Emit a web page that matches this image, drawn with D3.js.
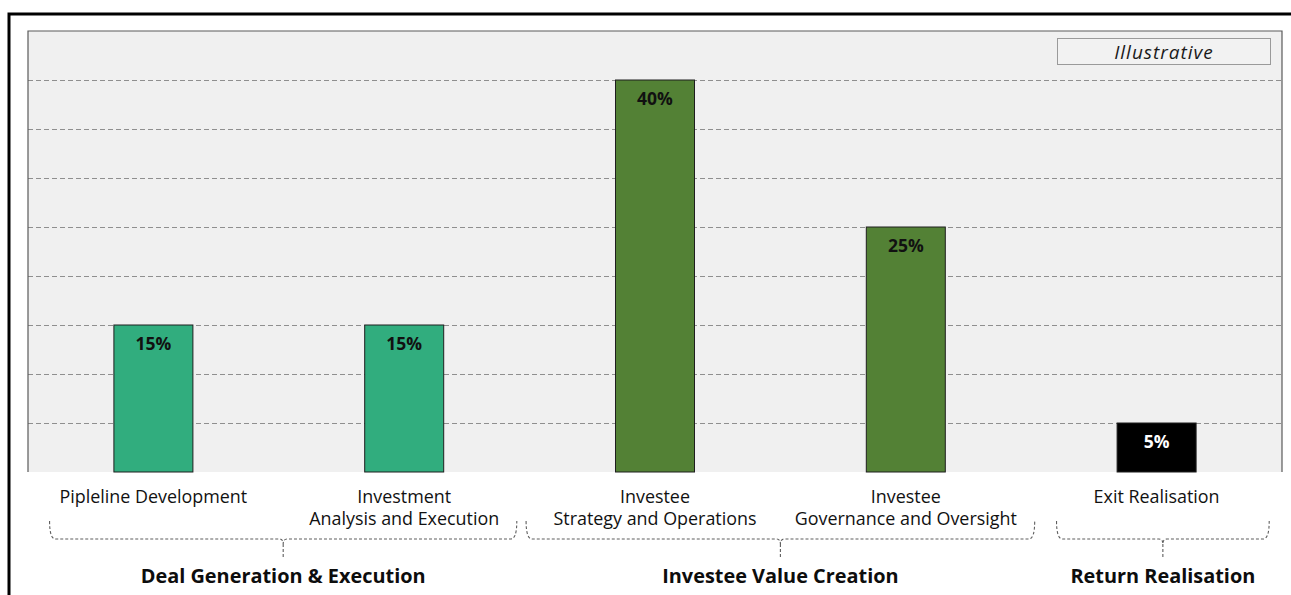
<!DOCTYPE html>
<html>
<head>
<meta charset="utf-8">
<script src="https://cdn.jsdelivr.net/npm/d3@7"></script>
<style>
  html, body { margin: 0; padding: 0; background: #fff; }
  svg { display: block; font-family: "Open Sans", "Noto Sans", sans-serif; }
</style>
</head>
<body>
<svg id="chart" width="1291" height="595"></svg>
<script>
// Share of effort across the private-equity value chain (illustrative)
const categories = [
  ["Pipleline Development"],
  ["Investment", "Analysis and Execution"],
  ["Investee", "Strategy and Operations"],
  ["Investee", "Governance and Oversight"],
  ["Exit Realisation"]
];
const values = [15, 15, 40, 25, 5];
const valueLabels = ["15%", "15%", "40%", "25%", "5%"];
const gridTicks = [0, 5, 10, 15, 20, 25, 30, 35, 40, 45];

// Stage groupings shown under the bars (first and last category index)
const groupNames = ["Deal Generation & Execution", "Investee Value Creation", "Return Realisation"];
const groupFirst = [0, 2, 4];
const groupLast = [1, 3, 4];
const categoryGroup = [0, 0, 1, 1, 2];

const badge = "Illustrative";

// ---- styling ----
const groupFill = ["#31ad7e", "#538135", "#000000"];
const groupLabelFill = ["#111", "#111", "#fff"];
// how far each brace reaches past its outer bar centres, in band steps
const braceReachLeft = [0.41, 0.51, 0.395];
const braceReachRight = [0.445, 0.51, 0.445];

const svg = d3.select("#chart");
const W = 1291, H = 595;
const plot = { left: 28, right: 1282, top: 31, bottom: 472 };

// outer frame
svg.append("rect")
  .attr("x", 9).attr("y", 14)
  .attr("width", W + 10).attr("height", H + 10)
  .attr("fill", "#fff").attr("stroke", "#000").attr("stroke-width", 3);

const x = d3.scaleBand()
  .domain(d3.range(categories.length))
  .range([plot.left, plot.right])
  .paddingInner(0.685)
  .paddingOuter(0.3425);

const y = d3.scaleLinear()
  .domain([0, d3.max(gridTicks)])
  .range([plot.bottom, plot.top]);

// plot background
svg.append("rect")
  .attr("x", plot.left).attr("y", plot.top)
  .attr("width", plot.right - plot.left).attr("height", plot.bottom - plot.top)
  .attr("fill", "#f0f0f0");

// dashed gridlines
const grid = d3.axisLeft(y)
  .tickValues(gridTicks.filter(t => t > 0 && t < d3.max(gridTicks)))
  .tickSize(-(plot.right - plot.left))
  .tickFormat("");
const gridG = svg.append("g")
  .attr("transform", `translate(${plot.left},0)`)
  .call(grid);
gridG.select(".domain").remove();
gridG.selectAll(".tick line")
  .attr("stroke", "#8f8f8f")
  .attr("stroke-width", 1)
  .attr("stroke-dasharray", "5,3");

// plot border (top, left, right)
svg.append("path")
  .attr("d", `M${plot.left},${plot.bottom}V${plot.top}H${plot.right}V${plot.bottom}`)
  .attr("fill", "none")
  .attr("stroke", "#5a5a5a")
  .attr("stroke-width", 1.2);

// bars
svg.append("g").selectAll("rect")
  .data(values)
  .join("rect")
  .attr("x", (d, i) => x(i))
  .attr("y", d => y(d))
  .attr("width", x.bandwidth())
  .attr("height", d => y(0) - y(d))
  .attr("fill", (d, i) => groupFill[categoryGroup[i]])
  .attr("stroke", "#1e1e1e")
  .attr("stroke-width", 1);

// value labels inside the bars
svg.append("g").selectAll("text")
  .data(values)
  .join("text")
  .attr("x", (d, i) => x(i) + x.bandwidth() / 2)
  .attr("y", d => y(d) + 25)
  .attr("text-anchor", "middle")
  .attr("font-size", 17.5)
  .attr("font-weight", 700)
  .attr("fill", (d, i) => groupLabelFill[categoryGroup[i]])
  .text((d, i) => valueLabels[i]);

// category labels
const catG = svg.append("g").selectAll("text")
  .data(categories)
  .join("text")
  .attr("x", (d, i) => x(i) + x.bandwidth() / 2)
  .attr("y", 502.5)
  .attr("text-anchor", "middle")
  .attr("font-size", 17.9)
  .attr("fill", "#111");
catG.selectAll("tspan")
  .data(d => d)
  .join("tspan")
  .attr("x", function () { return d3.select(this.parentNode).attr("x"); })
  .attr("dy", (d, j) => j === 0 ? 0 : 22.5)
  .text(d => d);

// braces grouping the stages
const step = x.step();
const braceTop = 521, braceLine = 539, braceTip = 557;
groupNames.forEach((name, g) => {
  const x0 = x(groupFirst[g]) + x.bandwidth() / 2 - braceReachLeft[g] * step;
  const x1 = x(groupLast[g]) + x.bandwidth() / 2 + braceReachRight[g] * step;
  const xm = (x0 + x1) / 2;
  const path = d3.path();
  path.moveTo(x0 - 1, braceTop);
  path.quadraticCurveTo(x0 - 1, braceLine, x0 + 5, braceLine);
  path.lineTo(xm - 4, braceLine);
  path.quadraticCurveTo(xm, braceLine, xm, braceLine + 5);
  path.quadraticCurveTo(xm, braceLine, xm + 4, braceLine);
  path.lineTo(x1 - 5, braceLine);
  path.quadraticCurveTo(x1 + 1, braceLine, x1 + 1, braceTop);
  path.moveTo(xm, braceLine + 5);
  path.lineTo(xm, braceTip);
  svg.append("path")
    .attr("d", path.toString())
    .attr("fill", "none")
    .attr("stroke", "#5e5e5e")
    .attr("stroke-width", 1.1)
    .attr("stroke-dasharray", "3,2");
  svg.append("text")
    .attr("x", xm)
    .attr("y", 583)
    .attr("text-anchor", "middle")
    .attr("font-size", 19.9)
    .attr("font-weight", 700)
    .attr("fill", "#0d0d0d")
    .text(name);
});

// "Illustrative" badge
svg.append("rect")
  .attr("x", 1057.5).attr("y", 38.5)
  .attr("width", 213).attr("height", 26)
  .attr("fill", "#f2f2f2")
  .attr("stroke", "#9a9a9a")
  .attr("stroke-width", 1);
svg.append("text")
  .attr("x", 1057.5 + 213 / 2)
  .attr("y", 59)
  .attr("text-anchor", "middle")
  .attr("font-size", 19)
  .attr("font-style", "italic")
  .attr("letter-spacing", 1)
  .attr("fill", "#1a1a1a")
  .text(badge);
</script>
</body>
</html>
